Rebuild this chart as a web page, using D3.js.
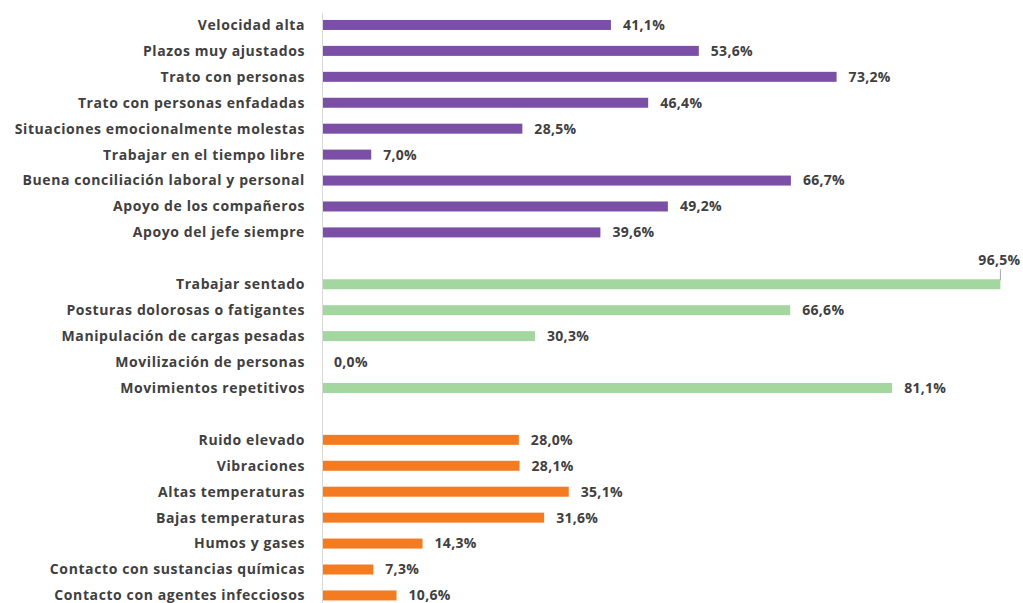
<!DOCTYPE html>
<html><head><meta charset="utf-8">
<script src="https://cdn.jsdelivr.net/npm/d3@7"></script>
<style>body{margin:0;background:#fff}svg{display:block}</style>
</head><body>
<svg id="c" width="1023" height="603"></svg>
<script>
const psychoCategories = ["Velocidad alta","Plazos muy ajustados","Trato con personas","Trato con personas enfadadas","Situaciones emocionalmente molestas","Trabajar en el tiempo libre","Buena conciliación laboral y personal","Apoyo de los compañeros","Apoyo del jefe siempre"];
const psychoValues = [41.1,53.6,73.2,46.4,28.5,7.0,66.7,49.2,39.6];
const ergoCategories = ["Trabajar sentado","Posturas dolorosas o fatigantes","Manipulación de cargas pesadas","Movilización de personas","Movimientos repetitivos"];
const ergoValues = [96.5,66.6,30.3,0.0,81.1];
const physCategories = ["Ruido elevado","Vibraciones","Altas temperaturas","Bajas temperaturas","Humos y gases","Contacto con sustancias químicas","Contacto con agentes infecciosos"];
const physValues = [28.0,28.1,35.1,31.6,14.3,7.3,10.6];
const groupColors = ["#7b4fa6","#a4d7a0","#f47b20"];

const groups = [[psychoCategories, psychoValues],[ergoCategories, ergoValues],[physCategories, physValues]];
const rows = [];
groups.forEach((g,gi)=>{
  if(gi>0) rows.push({key:"gap"+gi, gap:true});
  g[0].forEach((c,i)=>rows.push({key:c, label:c, value:g[1][i], group:gi}));
});

const svg = d3.select("#c");
const x = d3.scaleLinear().domain([0,100]).range([322,1025]);
const y = d3.scaleBand().domain(rows.map(r=>r.key)).range([12, 12+rows.length*25.93]).paddingInner(0.62).paddingOuter(0.31);
const font = "'Open Sans', sans-serif";

svg.append("line").attr("x1",322.5).attr("x2",322.5).attr("y1",13).attr("y2",603)
  .attr("stroke","#d9d9d9").attr("stroke-width",1);

const data = rows.filter(r=>!r.gap);
svg.selectAll("rect.bar").data(data).join("rect").attr("class","bar")
  .attr("x",x(0)+1).attr("y",d=>y(d.key)+y.bandwidth()/2-5)
  .attr("width",d=>Math.max(0,x(d.value)-x(0)-1)).attr("height",10)
  .attr("fill",d=>groupColors[d.group]);

svg.selectAll("text.lab").data(data).join("text").attr("class","lab")
  .attr("x",305).attr("y",d=>y(d.key)+y.bandwidth()/2).attr("dy","0.35em")
  .attr("text-anchor","end").attr("font-family",font).attr("font-weight","bold")
  .attr("font-size",14).attr("letter-spacing",0.6).attr("fill","#404040").text(d=>d.label);

const fmt = v => v.toFixed(1).replace(".",",")+"%";
const maxV = d3.max(data,d=>d.value);
svg.selectAll("text.val").data(data).join("text").attr("class","val")
  .attr("x",d=>d.value===maxV ? x(d.value)-1 : x(d.value)+12)
  .attr("y",d=>d.value===maxV ? y(d.key)+y.bandwidth()/2-24 : y(d.key)+y.bandwidth()/2)
  .attr("dy","0.35em")
  .attr("text-anchor",d=>d.value===maxV?"middle":"start")
  .attr("font-family",font).attr("font-weight","bold").attr("font-size",14).attr("letter-spacing",0.3)
  .attr("fill","#404040").text(d=>fmt(d.value));

data.filter(d=>d.value===maxV).forEach(d=>{
  const cy = y(d.key)+y.bandwidth()/2;
  svg.append("line").attr("x1",x(d.value)).attr("x2",x(d.value))
    .attr("y1",cy-15).attr("y2",cy-4).attr("stroke","#a6a6a6").attr("stroke-width",1);
});
</script>
</body></html>
